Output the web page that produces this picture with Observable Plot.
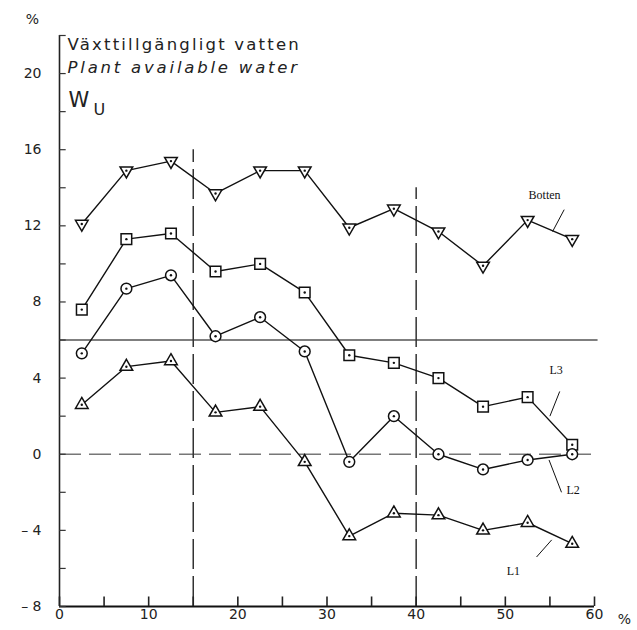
<!DOCTYPE html>
<html>
<head>
<meta charset="utf-8">
<script src="https://cdn.jsdelivr.net/npm/d3@7"></script>
<script src="https://cdn.jsdelivr.net/npm/@observablehq/plot@0.6"></script>
<style>
  body { margin: 0; background: #fff; }
  svg { display: block; }
</style>
</head>
<body>
<div id="chart"></div>
<script>
// Sample depth classes (midpoints, %)
const classes = [2.5, 7.5, 12.5, 17.5, 22.5, 27.5, 32.5, 37.5, 42.5, 47.5, 52.5, 57.5];

// Plant available water, Wu (%), per layer
const botten = [12.1, 14.9, 15.4, 13.7, 14.9, 14.9, 11.9, 12.9, 11.7, 9.9, 12.3, 11.3];
const l3     = [7.6, 11.3, 11.6, 9.6, 10.0, 8.5, 5.2, 4.8, 4.0, 2.5, 3.0, 0.5];
const l2     = [5.3, 8.7, 9.4, 6.2, 7.2, 5.4, -0.4, 2.0, 0.0, -0.8, -0.3, 0.0];
const l1     = [2.6, 4.6, 4.9, 2.2, 2.5, -0.4, -4.3, -3.1, -3.2, -4.0, -3.6, -4.7];

// Axis ticks and labels
const xTickLabels = [0, 10, 20, 30, 40, 50, 60];
const xTickMarks = [0, 5, 10, 15, 20, 25, 30, 35, 40, 45, 50, 55, 60];
const yTickLabels = [-8, -4, 0, 4, 8, 12, 16, 20];
const yTickMarks = d3.range(-8, 23, 2);

// Reference lines
const solidLevel = [6];
const dashedLevel = [0];
const boundaries = [{x: 15, top: 16}, {x: 40, top: 14}];

// Titles
const titleSv = "Växttillgängligt vatten";
const titleEn = "Plant available water";

// Layer series
const seriesNames = ["Botten", "L3", "L2", "L1"];
const seriesValues = [botten, l3, l2, l1];
const rows = seriesNames.flatMap((name, i) =>
  classes.map((c, j) => ({series: name, x: c, y: seriesValues[i][j]}))
);
const markerSymbol = {Botten: "triangle", L3: "square", L2: "circle", L1: "triangle"};
const markerRadius = {Botten: 4.7, L3: 6, L2: 5.4, L1: 4.7};

// Series labels with leader lines
const seriesLabels = [
  {text: "Botten", x: 54.4, y: 13.6, x1: 56.6, y1: 12.85, x2: 55.3, y2: 11.7},
  {text: "L3", x: 55.7, y: 4.4, x1: 56.1, y1: 3.3, x2: 55.0, y2: 2.0},
  {text: "L2", x: 57.6, y: -1.9, x1: 56.3, y1: -2.0, x2: 54.9, y2: -0.3},
  {text: "L1", x: 50.9, y: -6.15, x1: 53.5, y1: -5.4, x2: 55.2, y2: -4.5}
];

const sans = "'DejaVu Sans', 'Liberation Sans', sans-serif";
const serif = "'Liberation Serif', 'DejaVu Serif', serif";

const chart = Plot.plot({
  width: 637,
  height: 630,
  marginLeft: 59,
  marginRight: 43,
  marginTop: 35,
  marginBottom: 24,
  style: {fontFamily: sans, background: "#fff", color: "#222"},
  x: {domain: [0, 60]},
  y: {domain: [-8, 22]},
  r: {type: "identity"},
  marks: [
    // reference lines
    Plot.ruleY(solidLevel, {x1: 0, x2: 60.4, stroke: "#555", strokeWidth: 1.4}),
    Plot.ruleY(dashedLevel, {x1: 0, x2: 60, stroke: "#777", strokeWidth: 1.3, strokeDasharray: "22,8"}),
    Plot.ruleX(boundaries, {x: "x", y1: -8, y2: "top", stroke: "#333", strokeWidth: 1.5, strokeDasharray: "30,7"}),

    // axis lines and inward ticks
    Plot.ruleX([0], {y1: -8, y2: 22, stroke: "#222", strokeWidth: 1.6}),
    Plot.ruleY([-8], {x1: 0, x2: 60, stroke: "#111", strokeWidth: 2}),
    Plot.ruleY(yTickMarks, {y: d => d, x1: 0, x2: 0.75, stroke: "#333", strokeWidth: 1.2}),
    Plot.ruleX(xTickMarks, {x: d => d, y1: -8, y2: -7.5, stroke: "#222", strokeWidth: 1.6}),
    Plot.axisY({
      ticks: yTickLabels, tickSize: 0, tickPadding: 18, fontSize: 14, label: null,
      tickFormat: d => d < 0 ? "– " + Math.abs(d) : String(d)
    }),
    Plot.axisX({ticks: xTickLabels, tickSize: 0, tickPadding: 3, fontSize: 14, label: null}),
    Plot.text(["%"], {x: 60, y: -8, dx: 30, dy: 13, fontSize: 14}),
    Plot.text(["%"], {x: 0, y: 22, dx: -27, dy: -16, fontSize: 14}),

    // titles
    Plot.text([titleSv], {x: 0, y: 21.5, dx: 8, textAnchor: "start", fontSize: 16.5, fill: "#222"}),
    Plot.text([titleEn], {x: 0, y: 20.3, dx: 8, textAnchor: "start", fontSize: 16.5, fontStyle: "italic", fill: "#222"}),
    Plot.text(["W"], {x: 0, y: 18.6, dx: 9, textAnchor: "start", fontSize: 21, fill: "#222"}),
    Plot.text(["U"], {x: 0, y: 18.3, dx: 34, dy: 4, textAnchor: "start", fontSize: 16, fill: "#222"}),

    // layer lines and markers
    Plot.line(rows, {x: "x", y: "y", z: "series", stroke: "#111", strokeWidth: 1.4}),
    Plot.dot(rows, {
      x: "x", y: "y",
      symbol: d => markerSymbol[d.series],
      rotate: d => d.series === "Botten" ? 180 : 0,
      r: d => markerRadius[d.series],
      fill: "#fff", stroke: "#111", strokeWidth: 1.5
    }),
    Plot.dot(rows, {x: "x", y: "y", r: 1.2, fill: "#111"}),

    // series labels
    Plot.link(seriesLabels, {x1: "x1", y1: "y1", x2: "x2", y2: "y2", stroke: "#111", strokeWidth: 1}),
    Plot.text(seriesLabels, {x: "x", y: "y", text: "text", fontFamily: serif, fontSize: 12, fill: "#111"})
  ]
});

// Spread the title lettering
d3.select(chart).selectAll("text")
  .filter(function () { return this.textContent === titleSv; })
  .attr("letter-spacing", 2.2);
d3.select(chart).selectAll("text")
  .filter(function () { return this.textContent === titleEn; })
  .attr("letter-spacing", 2.8);

document.getElementById("chart").append(chart);
</script>
</body>
</html>
